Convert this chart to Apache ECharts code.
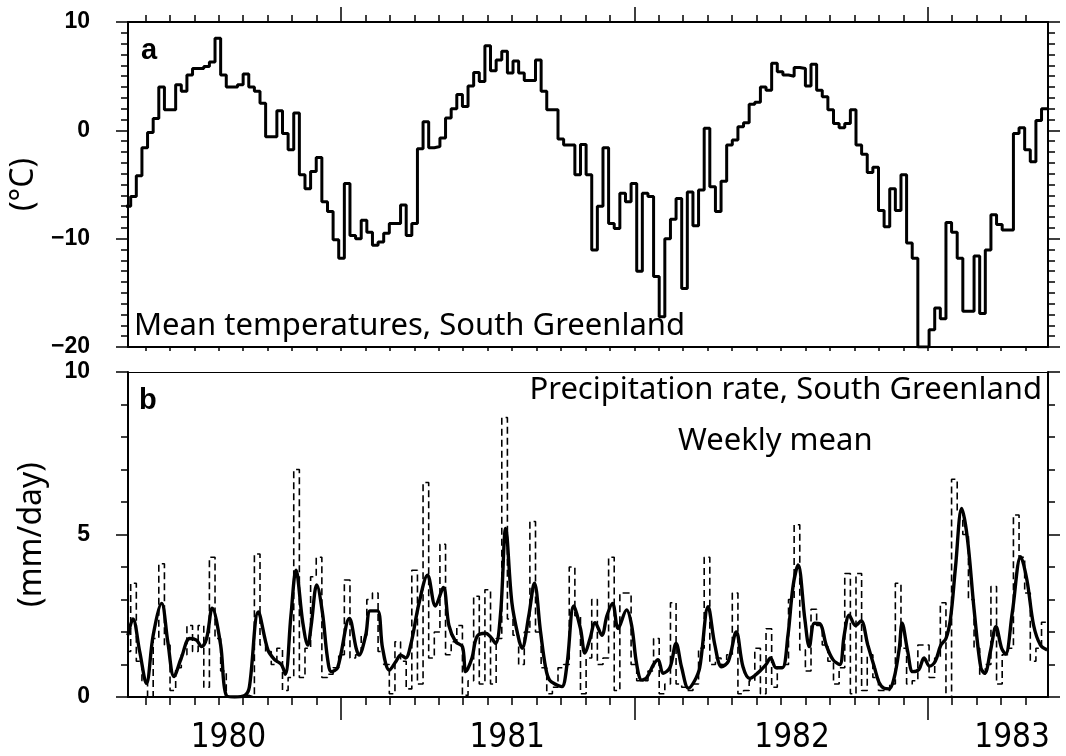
<!DOCTYPE html>
<html>
<head>
<meta charset="utf-8">
<script src="https://cdn.jsdelivr.net/npm/echarts@6/dist/echarts.min.js"></script>
<style>
  html, body { margin: 0; background: #fff; }
  #chart { width: 1066px; height: 756px; }
</style>
</head>
<body>
<div id="chart"></div>
<script>
// x unit: months since 1 Jan 1980
const X_MIN = 3.29;
const X_MAX = 40.92;
const WEEK0 = 3.17;            // start of first weekly bin
const WEEK_LEN = 12 / 52.18;   // one week in months

// weekly mean temperature (°C)
const tempWeekly = [
  -7.0, -6.1, -4.2, -1.6, -0.2, 1.1, 4.0, 1.9, 1.9, 4.2,
  3.6, 5.1, 5.7, 5.7, 5.9, 6.3, 8.5, 5.1, 4.0, 4.0,
  4.2, 5.2, 4.0, 3.6, 2.5, -0.6, -0.6, 1.8, -0.3, -1.8,
  1.6, -4.1, -5.4, -3.8, -2.5, -6.6, -7.5, -10.1, -11.8, -4.9,
  -9.7, -10.0, -8.3, -9.4, -10.6, -10.3, -9.5, -8.6, -8.6, -6.9,
  -9.7, -8.6, -1.7, 0.8, -1.6, -1.5, -0.7, 1.15, 2.0, 3.3,
  2.2, 4.1, 5.35, 4.5, 7.8, 5.5, 6.5, 7.3, 5.3, 6.4,
  5.3, 4.6, 4.6, 6.5, 3.6, 1.9, 1.9, -0.8, -1.35, -1.35,
  -4.1, -1.3, -4.1, -11.05, -7.0, -1.6, -8.6, -9.05, -5.8, -6.6,
  -4.9, -13.0, -5.8, -6.1, -13.5, -17.2, -10.0, -8.2, -6.3, -14.6,
  -5.7, -8.8, -5.5, 0.2, -5.2, -7.5, -4.7, -1.36, -0.9, 0.33,
  0.7, 2.4, 2.6, 4.0, 3.7, 6.2, 5.4, 5.1, 5.0, 5.8,
  5.7, 4.1, 6.1, 3.7, 3.1, 1.9, 0.64, 0.25, 0.64, 1.9,
  -1.36, -2.2, -3.9, -3.4, -7.4, -8.9, -5.4, -7.4, -4.1, -10.4,
  -11.8, -20.0, -20.0, -18.4, -16.4, -17.4, -8.5, -9.4, -11.8, -16.7,
  -16.7, -11.6, -16.9, -11.05, -7.8, -8.7, -9.2, -9.2, -0.3, 0.25,
  -1.8, -2.9, 0.9, 2.0
];

// weekly precipitation rate (mm/day), dashed
const precipWeekly = [
  1.4, 3.5, 1.1, 0.5, 0.0, 1.8, 4.1, 1.6, 0.2, 0.9,
  1.3, 2.2, 1.4, 2.2, 0.3, 4.3, 1.8, 0.8, 0.0, 0.0,
  0.0, 0.05, 0.0, 4.4, 1.6, 1.4, 1.0, 1.5, 0.2, 0.6,
  7.0, 0.6, 1.5, 3.7, 4.3, 0.6, 0.7, 0.9, 1.3, 3.6,
  1.2, 1.3, 1.9, 3.0, 3.2, 1.4, 1.0, 0.1, 1.7, 1.1,
  0.25, 3.9, 0.4, 6.6, 1.2, 2.0, 4.7, 1.3, 1.7, 2.2,
  0.05, 0.5, 3.1, 0.4, 3.3, 0.4, 1.8, 8.6, 2.4, 1.9,
  1.0, 2.0, 5.4, 2.0, 0.9, 0.1, 0.3, 0.9, 1.0, 4.0,
  2.5, 0.1, 1.2, 3.0, 1.0, 1.2, 4.3, 0.2, 3.2, 3.2,
  1.0, 0.5, 0.5, 0.8, 1.8, 0.1, 0.4, 2.9, 0.4, 0.3,
  0.2, 0.4, 1.5, 4.3, 1.0, 1.2, 1.0, 1.3, 3.2, 0.1,
  0.2, 0.5, 1.5, 0.1, 2.1, 0.3, 0.9, 1.0, 3.0, 5.3,
  1.45, 0.8, 2.7, 2.2, 1.6, 1.1, 0.4, 0.9, 3.8, 0.1,
  3.8, 0.2, 1.3, 0.6, 0.2, 0.2, 0.4, 3.5, 1.5, 0.4,
  0.5, 1.6, 1.6, 0.6, 1.2, 2.9, 0.0, 6.7, 5.7, 5.0,
  3.0, 1.5, 0.7, 1.0, 3.4, 0.4, 1.3, 1.5, 5.6, 4.3,
  3.2, 1.1, 1.5, 2.3
];

// smoothed precipitation curve (solid), position in weeks and value
const smoothWeek = [
  0.5, 1.4, 2.6, 3.8, 5.0, 6.5, 7.6, 8.7, 10.0, 11.5,
  12.7, 13.6, 14.5, 15.5, 17.0, 18.0, 19.5, 21.3, 22.1, 23.7,
  25.4, 26.6, 27.8, 28.5, 29.5, 30.4, 31.6, 32.5, 33.1, 34.1,
  35.1, 36.0, 36.7, 37.8, 39.9, 41.1, 41.6, 42.8, 43.6, 44.9,
  45.8, 47.0, 48.2, 49.0, 49.9, 50.8, 52.3, 53.8, 55.2, 56.6,
  57.6, 58.8, 60.0, 60.6, 61.7, 62.6, 64.1, 65.0, 65.9, 66.8,
  67.7, 68.8, 70.0, 70.6, 71.8, 72.8, 73.9, 74.8, 75.5, 76.8,
  77.7, 78.6, 79.8, 81.0, 81.8, 82.7, 83.6, 84.8, 85.7, 86.7,
  87.7, 89.2, 90.1, 91.0, 91.9, 92.8, 94.0, 94.8, 95.7, 96.9,
  98.0, 99.0, 100.2, 101.3, 102.2, 103.7, 104.9, 106.1, 107.3, 108.7,
  109.9, 111.1, 112.6, 114.0, 114.8, 115.8, 116.9, 117.9, 118.8, 119.7,
  120.9, 121.7, 122.6, 123.6, 124.7, 125.9, 127.1, 127.9, 128.8, 129.9,
  130.9, 132.1, 133.3, 134.1, 135.0, 135.9, 136.8, 137.7, 138.2, 139.2,
  140.1, 141.2, 142.1, 143.1, 144.1, 145.1, 146.0, 146.8, 147.7, 148.8,
  149.8, 151.0, 152.2, 152.9, 153.9, 154.9, 155.9, 156.6, 157.8, 159.3,
  160.4, 161.6, 162.8, 164.0
];
const smoothVal = [
  1.9, 2.4, 1.4, 0.42, 1.9, 2.88, 1.7, 0.63, 1.2, 1.8,
  1.75, 1.55, 1.8, 2.73, 1.6, 0.05, 0.0, 0.05, 0.3, 2.62,
  1.45, 1.15, 1.0, 0.7, 2.5, 3.9, 2.3, 1.6, 2.2, 3.45,
  2.6, 1.2, 0.78, 0.9, 2.42, 1.5, 1.29, 1.9, 2.65, 2.65,
  1.5, 0.83, 1.1, 1.29, 1.2, 1.6, 2.9, 3.75, 2.8, 3.37,
  2.2, 1.7, 1.55, 0.78, 1.2, 1.86, 1.96, 1.85, 1.65, 2.6,
  5.19, 2.9, 1.8, 1.5, 2.5, 3.5, 2.0, 0.9, 0.52, 0.37,
  0.32, 1.0, 2.8, 2.1, 1.35, 1.8, 2.29, 1.9, 2.5, 2.88,
  2.11, 2.68, 2.2, 1.0, 0.52, 0.6, 1.0, 1.15, 0.73, 0.9,
  1.65, 0.9, 0.27, 0.5, 0.9, 2.78, 1.6, 0.93, 1.1, 2.0,
  0.93, 0.57, 0.75, 1.0, 1.2, 0.9, 0.9, 1.9, 3.4, 4.06,
  2.4, 1.55, 2.27, 2.25, 1.6, 1.15, 1.0, 1.9, 2.52, 2.2,
  2.34, 1.6, 0.9, 0.45, 0.27, 0.25, 0.6, 1.5, 2.27, 1.4,
  0.78, 0.85, 1.2, 0.95, 1.1, 1.6, 1.8, 2.4, 4.0, 5.8,
  4.9, 2.7, 0.9, 0.73, 1.4, 2.16, 1.5, 1.32, 2.6, 4.32,
  3.6, 2.2, 1.6, 1.45
];

// axis ticks and labels
const monthTicks = [4, 5, 6, 7, 8, 9, 10, 11, 13, 14, 15, 16, 17, 18, 19, 20, 21, 22, 23,
  25, 26, 27, 28, 29, 30, 31, 32, 33, 34, 35, 37, 38, 39, 40];
const yearTicks = [12, 24, 36];
const yearLabelAt = [7.4, 18.8, 30.45, 39.45];
const yearLabels = ['1980', '1981', '1982', '1983'];

const weekX = i => WEEK0 + i * WEEK_LEN;

const tempData = tempWeekly.map((v, i) => [weekX(i), v]);
tempData.push([weekX(tempWeekly.length), tempWeekly[tempWeekly.length - 1]]);
const precipData = precipWeekly.map((v, i) => [weekX(i), v]);
precipData.push([weekX(precipWeekly.length), precipWeekly[precipWeekly.length - 1]]);
const smoothData = smoothWeek.map((w, i) => [weekX(w), smoothVal[i]]);

const BLACK = '#000';
const TEXT_FONT = 'Noto Sans, DejaVu Sans, sans-serif';
const minus = v => (v < 0 ? '\u2212' + Math.abs(v) : String(v));

function xAx(grid, pos, opts) {
  return Object.assign({
    type: 'value', gridIndex: grid, position: pos,
    min: X_MIN, max: X_MAX,
    splitLine: { show: false },
    axisLine: { show: true, onZero: false, lineStyle: { color: BLACK, width: 2 } },
    axisTick: { show: false },
    axisLabel: { show: false }
  }, opts);
}

function yAx(grid, pos, min, max, interval, minorSplit, opts) {
  return Object.assign({
    type: 'value', gridIndex: grid, position: pos,
    min: min, max: max, interval: interval,
    splitLine: { show: false },
    axisLine: { show: true, onZero: false, lineStyle: { color: BLACK, width: 2 } },
    axisTick: { show: true, length: 12, lineStyle: { color: BLACK, width: 1.5 } },
    minorTick: { show: true, splitNumber: minorSplit, length: 7, lineStyle: { color: BLACK, width: 1.5 } },
    axisLabel: { show: false }
  }, opts);
}

const yLabel = {
  show: true, margin: 38, color: BLACK, fontSize: 23, fontWeight: 'bold',
  fontFamily: 'Liberation Sans, Arial, sans-serif', formatter: minus
};
const yName = {
  nameLocation: 'middle', nameRotate: 90, nameGap: 80,
  nameTextStyle: { color: BLACK, fontSize: 32, fontFamily: TEXT_FONT }
};

const chart = echarts.init(document.getElementById('chart'));
chart.setOption({
  animation: false,
  backgroundColor: '#fff',
  grid: [
    { left: 128, right: 18, top: 22, height: 325 },
    { left: 128, right: 18, top: 372, height: 325 }
  ],
  xAxis: [
    // panel a
    xAx(0, 'bottom', { axisTick: { show: true, customValues: monthTicks.concat(yearTicks), length: 4, lineStyle: { color: BLACK, width: 1.5 } } }),
    xAx(0, 'top', { axisTick: { show: true, customValues: monthTicks, length: 7, lineStyle: { color: BLACK, width: 1.5 } } }),
    xAx(0, 'top', { axisTick: { show: true, customValues: yearTicks, length: 15, lineStyle: { color: BLACK, width: 1.5 } } }),
    // panel b
    xAx(1, 'bottom', {
      axisTick: { show: true, customValues: monthTicks, length: 8, lineStyle: { color: BLACK, width: 1.5 } },
      axisLabel: {
        show: true, customValues: yearLabelAt, margin: 25, color: BLACK, fontSize: 33,
        fontFamily: 'Liberation Sans Narrow, DejaVu Sans Condensed, sans-serif',
        formatter: v => yearLabels[yearLabelAt.indexOf(v)]
      }
    }),
    xAx(1, 'bottom', { axisTick: { show: true, customValues: yearTicks, length: 23, lineStyle: { color: BLACK, width: 1.5 } } }),
    xAx(1, 'top', { axisLine: { show: true, onZero: false, lineStyle: { color: BLACK, width: 1 } } })
  ],
  yAxis: [
    yAx(0, 'left', -20, 10, 10, 10, Object.assign({ name: '(°C)', axisLabel: yLabel }, yName)),
    yAx(0, 'right', -20, 10, 10, 10, {}),
    yAx(1, 'left', 0, 10, 5, 5, Object.assign({ name: '(mm/day)', axisLabel: yLabel }, yName)),
    yAx(1, 'right', 0, 10, 5, 5, {})
  ],
  series: [
    {
      name: 'Mean temperature', type: 'line', xAxisIndex: 0, yAxisIndex: 0,
      step: 'end', data: tempData, showSymbol: false, symbol: 'none',
      lineStyle: { color: BLACK, width: 3 }
    },
    {
      name: 'Weekly precipitation', type: 'line', xAxisIndex: 3, yAxisIndex: 2,
      step: 'end', data: precipData, showSymbol: false, symbol: 'none',
      lineStyle: { color: BLACK, width: 1.6, type: [7, 4] }
    },
    {
      name: 'Smoothed precipitation', type: 'line', xAxisIndex: 3, yAxisIndex: 2,
      smooth: 0.35, data: smoothData, showSymbol: false, symbol: 'none',
      lineStyle: { color: BLACK, width: 3.4 }
    }
  ],
  graphic: [
    { type: 'text', left: 141, top: 36, style: { text: 'a', fill: BLACK, font: 'bold 29px Liberation Sans, Arial, sans-serif' } },
    { type: 'text', left: 139, top: 386, style: { text: 'b', fill: BLACK, font: 'bold 29px Liberation Sans, Arial, sans-serif' } },
    { type: 'text', left: 134, top: 311, style: { text: 'Mean temperatures, South Greenland', fill: BLACK, font: '31px ' + TEXT_FONT } },
    { type: 'text', right: 24, top: 375, style: { text: 'Precipitation rate, South Greenland', fill: BLACK, font: '31px ' + TEXT_FONT } },
    { type: 'text', left: 678, top: 426, style: { text: 'Weekly mean', fill: BLACK, font: '31px ' + TEXT_FONT } }
  ]
});
</script>
</body>
</html>
